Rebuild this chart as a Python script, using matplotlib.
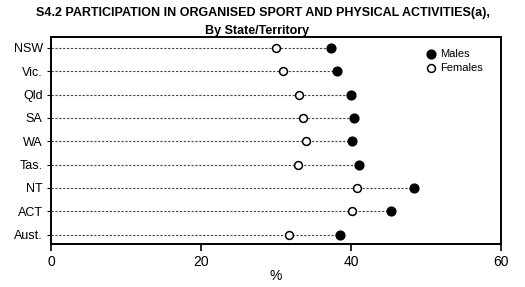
import matplotlib.pyplot as plt

states = ["NSW", "Vic.", "Qld", "SA", "WA", "Tas.", "NT", "ACT", "Aust."]
males = [37.4, 38.1, 40.0, 40.4, 40.1, 41.1, 48.4, 45.4, 38.6]
females = [30.0, 31.0, 33.1, 33.6, 34.0, 32.9, 40.8, 40.2, 31.8]

plt.rcParams['font.family'] = ['Liberation Sans', 'DejaVu Sans']

fig = plt.figure(figsize=(5.25, 2.87), dpi=100)
ax = fig.add_axes([0.0971, 0.150, 0.857, 0.721])

pos = list(range(len(states)))
for y, m in zip(pos, males):
    ax.plot([0, m], [y, y], linestyle=(0, (2, 1.5)), color="#444444", linewidth=0.8, zorder=1)
ax.scatter(males, pos, s=40, color="black", zorder=3, label="Males")
ax.scatter(females, pos, s=32, facecolor="white", edgecolor="black", linewidth=1.1, zorder=3, label="Females")

ax.set_xlim(0, 60)
ax.set_ylim(8.4, -0.47)
ax.set_xticks([0, 20, 40, 60])
ax.set_yticks(pos)
ax.set_yticklabels(states)
ax.tick_params(axis="x", length=5, width=1.2, labelsize=10, pad=3)
ax.tick_params(axis="y", length=3, width=0.8, labelsize=9, pad=3)
for s in ax.spines.values():
    s.set_linewidth(1.4)
ax.set_xlabel("%", fontsize=10, labelpad=0)

ax.legend(loc="upper left", bbox_to_anchor=(0.82, 0.97), frameon=False, fontsize=8,
          handletextpad=0.3, labelspacing=0.4, borderpad=0, handlelength=1)

fig.text(0.5, 0.975, "S4.2 PARTICIPATION IN ORGANISED SPORT AND PHYSICAL ACTIVITIES(a),",
         ha="center", va="top", fontsize=9, fontweight="bold")
fig.text(0.49, 0.913, "By State/Territory", ha="center", va="top", fontsize=9, fontweight="bold")

plt.savefig("out.png", dpi=100)
plt.close()
